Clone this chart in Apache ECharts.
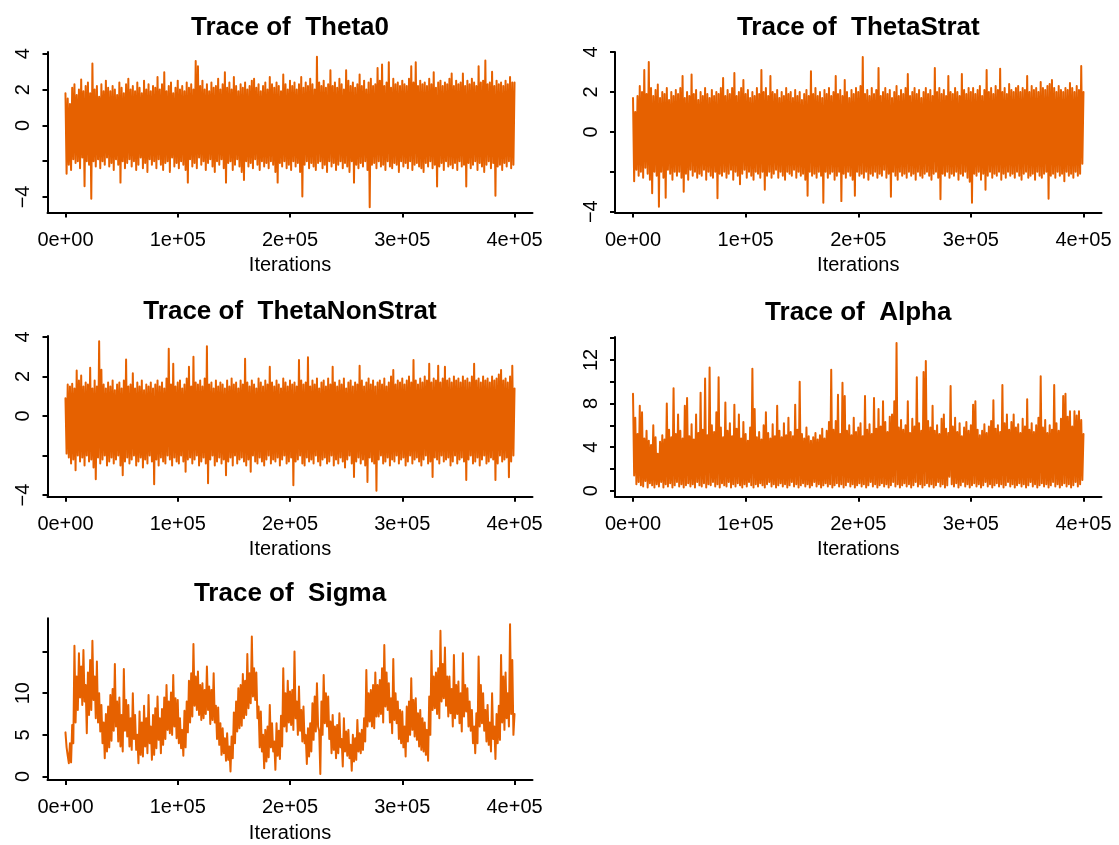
<!DOCTYPE html>
<html>
<head>
<meta charset="utf-8">
<title>Trace plots</title>
<script src="https://cdn.jsdelivr.net/npm/echarts@6/dist/echarts.min.js"></script>
<style>
  html, body { margin: 0; padding: 0; background: #ffffff; }
  #chart { width: 1119px; height: 845px; }
</style>
</head>
<body>
<div id="chart"></div>
<script>
// Thinned MCMC draws: one stored value every `thin` iterations (0 .. 400000).
const thin = 1000;
const iterTicks = [0, 100000, 200000, 300000, 400000];

const thetaTicks = [-4, -2, 0, 2, 4];
const thetaLabels = [-4, 0, 2, 4];
const alphaTicks = [0, 2, 4, 6, 8, 10, 12, 14];
const alphaLabels = [0, 4, 8, 12];
const sigmaTicks = [0, 5, 10, 15];
const sigmaLabels = [0, 5, 10];

const theta0 = [
  1.8,-2.7, 1.5,-2.2, 1.2,-2.5, 2.1,-1.9, 2.3,-2.1, 1.7,-2.0, 2.0,-2.4, 2.56,-1.8, 1.9,-3.4, 2.2,-2.0,
  2.4,-2.2, 1.8,-4.1, 3.46,-2.0, 2.0,-2.3, 2.2,-1.9, 1.6,-2.4, 2.3,-2.0, 1.9,-2.2, 2.5,-1.8, 2.1,-2.3,
  1.9,-2.1, 2.2,-2.5, 2.0,-1.9, 1.7,-2.2, 2.4,-3.2, 2.1,-2.0, 1.8,-2.4, 2.3,-2.1, 2.6,-1.9, 2.0,-2.3,
  2.2,-2.0, 1.9,-2.5, 2.4,-2.2, 2.1,-1.8, 1.8,-2.4, 2.5,-2.1, 2.0,-2.6, 2.3,-1.9, 1.9,-2.2, 2.2,-2.0,
  2.1,-2.4, 2.7,-1.9, 2.0,-2.2, 2.3,-2.5, 2.97,-2.1, 1.9,-2.0, 2.2,-2.6, 2.4,-1.8, 1.8,-2.3, 2.1,-2.1,
  2.5,-2.4, 2.0,-2.0, 2.2,-2.2, 1.9,-2.5, 2.4,-3.2, 2.1,-1.9, 2.3,-2.3, 2.0,-2.1, 3.6,-2.4, 3.3,-1.8,
  2.2,-2.2, 2.5,-2.0, 2.0,-2.5, 2.3,-2.1, 1.9,-1.9, 2.4,-2.3, 2.1,-2.6, 2.2,-2.0, 2.6,-2.2, 2.0,-1.9,
  2.3,-2.4, 2.97,-3.2, 2.1,-2.1, 2.4,-2.0, 2.0,-2.5, 2.7,-2.2, 2.2,-1.9, 1.9,-2.3, 2.3,-2.6, 2.1,-3.05,
  2.4,-2.0, 2.0,-2.3, 2.2,-2.1, 2.5,-2.4, 2.6,-1.9, 2.1,-2.2, 2.3,-2.5, 1.9,-2.0, 2.2,-2.3, 2.4,-2.1,
  2.0,-2.4, 2.7,-2.0, 2.3,-2.2, 2.1,-2.6, 2.4,-3.2, 2.2,-2.1, 1.9,-2.3, 2.84,-2.0, 2.3,-2.4, 2.0,-2.2,
  2.5,-2.5, 2.2,-2.0, 2.4,-2.3, 2.0,-2.1, 2.3,-2.6, 2.7,-3.98, 2.1,-2.2, 2.4,-2.0, 2.2,-2.4, 2.6,-2.1,
  2.3,-2.3, 2.0,-2.5, 3.83,-2.1, 2.4,-2.0, 2.2,-2.4, 2.5,-2.2, 2.1,-2.6, 2.3,-2.0, 3.08,-2.3, 2.2,-2.1,
  2.4,-2.5, 2.1,-2.2, 2.6,-2.0, 2.3,-2.4, 2.0,-2.1, 3.08,-2.3, 2.5,-2.6, 2.2,-2.0, 2.4,-3.2, 2.1,-2.2,
  2.3,-2.4, 2.84,-2.1, 2.2,-2.3, 2.5,-2.0, 2.0,-2.5, 2.4,-4.58, 2.6,-2.2, 2.2,-2.1, 2.3,-2.4, 3.2,-2.0,
  2.5,-2.3, 3.4,-2.2, 2.2,-2.5, 2.4,-2.0, 3.53,-2.3, 2.1,-2.4, 2.6,-2.1, 2.3,-2.2, 2.4,-2.6, 2.2,-2.0,
  2.5,-2.3, 2.3,-2.1, 2.2,-2.4, 2.6,-2.0, 3.3,-2.5, 2.4,-2.2, 3.53,-2.1, 2.2,-2.3, 2.5,-2.4, 2.3,-2.6,
  2.4,-2.1, 2.2,-2.3, 2.6,-2.0, 2.3,-2.4, 2.97,-2.2, 2.1,-3.42, 2.4,-2.3, 2.5,-2.1, 2.2,-2.5, 2.4,-2.0,
  2.3,-2.3, 2.6,-2.2, 2.9,-2.4, 2.2,-2.1, 2.5,-2.5, 2.3,-2.0, 2.4,-2.3, 2.9,-2.2, 2.2,-3.42, 2.5,-2.1,
  2.3,-2.4, 2.6,-2.2, 2.4,-2.0, 2.2,-2.5, 3.3,-2.1, 2.4,-2.3, 2.5,-2.6, 3.63,-2.2, 2.3,-2.0, 2.4,-2.4,
  3.0,-2.1, 2.2,-3.94, 2.5,-2.3, 2.3,-2.2, 2.4,-2.5, 2.2,-2.1, 2.5,-2.3, 2.3,-2.0, 2.7,-2.4, 2.4,-2.2,
  2.4
];

const thetaStrat = [
  1.7,-2.47, 1.0,-1.9, 1.8,-2.2, 2.3,-2.0, 2.0,-2.3, 3.1,-1.8, 1.9,-2.1, 3.5,-2.4, 2.2,-3.08, 1.8,-2.0,
  2.1,-2.2, 2.37,-3.75, 1.7,-2.0, 2.0,-2.3, 1.9,-3.3, 2.2,-1.9, 1.6,-2.1, 2.0,-2.4, 1.8,-2.0, 2.1,-2.2,
  1.9,-2.0, 2.2,-2.3, 2.8,-3.0, 1.7,-2.1, 2.0,-2.4, 1.8,-1.9, 2.87,-2.2, 1.9,-2.0, 2.1,-2.3, 1.6,-2.1,
  2.0,-2.2, 1.8,-1.9, 2.2,-2.4, 1.9,-2.0, 1.7,-2.2, 2.1,-2.3, 1.8,-2.0, 2.0,-3.33, 1.9,-2.1, 2.2,-2.2,
  2.7,-2.0, 1.8,-2.3, 2.1,-2.1, 1.9,-1.9, 2.2,-2.4, 2.95,-2.0, 1.8,-2.2, 2.0,-2.63, 2.2,-2.1, 2.6,-1.9,
  1.9,-2.3, 2.1,-2.0, 1.7,-2.2, 2.0,-2.4, 1.8,-2.0, 2.2,-2.1, 1.9,-2.3, 3.1,-2.0, 2.0,-2.9, 2.2,-2.2,
  1.8,-2.0, 2.8,-2.3, 2.0,-2.1, 1.9,-1.9, 2.1,-2.3, 1.7,-2.0, 2.0,-2.2, 1.8,-2.4, 2.2,-2.0, 1.9,-2.1,
  2.0,-2.2, 1.7,-1.9, 2.1,-2.3, 1.8,-2.0, 2.0,-2.2, 1.6,-2.1, 1.9,-2.4, 2.1,-3.2, 1.8,-2.0, 3.03,-2.2,
  1.9,-2.1, 2.2,-2.3, 1.8,-2.0, 2.0,-2.2, 1.7,-3.55, 2.1,-2.0, 1.9,-2.3, 2.2,-2.1, 1.8,-2.0, 2.0,-2.4,
  2.8,-2.2, 1.9,-2.0, 2.1,-3.47, 1.8,-2.1, 2.6,-2.3, 2.0,-2.0, 1.7,-2.2, 2.1,-2.4, 1.9,-3.2, 2.2,-2.0,
  2.0,-2.2, 2.3,-2.1, 3.75,-2.3, 1.9,-2.0, 2.1,-2.4, 1.8,-2.1, 2.2,-2.2, 1.9,-2.0, 2.1,-2.3, 3.2,-2.1,
  1.8,-2.2, 2.0,-1.9, 2.2,-2.3, 1.9,-2.1, 2.1,-3.25, 1.7,-2.0, 2.0,-2.2, 2.3,-2.4, 1.8,-2.0, 2.1,-2.2,
  1.9,-2.1, 2.2,-2.3, 2.9,-2.0, 1.8,-2.2, 2.0,-2.1, 2.2,-2.4, 1.9,-2.0, 2.1,-2.2, 1.7,-2.3, 2.0,-2.1,
  2.2,-2.0, 1.9,-2.2, 2.1,-2.4, 1.8,-2.1, 3.2,-2.0, 2.0,-2.3, 2.2,-3.38, 1.9,-2.1, 2.1,-2.2, 1.8,-2.0,
  2.8,-2.3, 2.0,-2.1, 1.9,-2.2, 2.2,-2.0, 2.0,-2.4, 1.8,-2.1, 2.9,-2.2, 2.1,-2.0, 1.9,-2.3, 2.2,-2.5,
  2.0,-3.55, 2.2,-2.1, 1.9,-2.2, 2.1,-2.0, 2.3,-2.4, 1.8,-2.1, 2.1,-2.9, 3.1,-2.2, 2.0,-2.0, 2.2,-2.3,
  1.9,-2.1, 2.3,-2.2, 2.1,-2.0, 3.16,-2.4, 2.0,-2.1, 2.2,-2.3, 1.9,-2.0, 2.4,-2.2, 2.1,-2.1, 2.0,-2.3,
  2.2,-2.0, 2.3,-2.2, 2.0,-2.4, 2.2,-2.1, 2.1,-2.0, 2.8,-2.3, 2.0,-2.2, 2.3,-2.1, 2.1,-2.4, 2.2,-2.0,
  2.0,-2.2, 2.5,-2.3, 2.2,-2.1, 2.1,-2.0, 2.3,-3.35, 2.4,-2.2, 2.6,-2.1, 2.2,-2.3, 2.0,-2.0, 2.3,-2.2,
  2.1,-2.1, 2.0,-2.47, 2.2,-2.0, 2.1,-2.2, 2.45,-2.1, 2.2,-2.3, 2.0,-2.0, 2.3,-2.2, 2.1,-2.1, 3.3,-1.6,
  2.0
];

const thetaNonStrat = [
  0.9,-1.9, 1.6,-2.1, 1.5,-2.4, 1.63,-2.2, 1.4,-2.74, 2.3,-2.0, 1.8,-2.3, 2.05,-2.1, 1.5,-2.5, 1.7,-2.0,
  1.6,-2.3, 2.44,-2.2, 1.4,-2.6, 1.8,-3.2, 1.5,-2.1, 3.78,-2.4, 2.34,-2.2, 1.6,-2.0, 1.4,-2.5, 1.7,-2.3,
  1.5,-2.1, 1.8,-2.4, 1.3,-2.2, 1.6,-2.0, 1.7,-2.5, 1.4,-3.0, 1.8,-2.3, 2.86,-2.1, 1.5,-2.4, 1.6,-2.2,
  2.17,-2.0, 1.4,-2.5, 1.7,-2.3, 1.5,-2.1, 1.8,-2.6, 1.3,-2.2, 1.6,-2.4, 1.5,-2.0, 1.7,-2.3, 1.4,-3.45,
  1.6,-2.2, 1.8,-2.5, 1.5,-2.1, 1.7,-2.3, 1.4,-2.4, 1.9,-2.0, 3.4,-2.2, 1.6,-2.5, 2.64,-2.1, 1.5,-2.3,
  1.7,-2.4, 1.8,-2.0, 1.4,-2.3, 1.6,-2.82, 1.9,-2.2, 2.5,-2.1, 1.5,-2.4, 3.0,-2.2, 1.7,-2.0, 1.6,-2.5,
  1.8,-2.3, 1.5,-2.1, 1.9,-2.4, 3.53,-3.4, 1.6,-2.2, 1.7,-2.0, 1.4,-2.5, 1.8,-2.3, 1.5,-2.1, 1.7,-2.4,
  1.6,-2.2, 1.4,-3.0, 1.8,-2.3, 1.5,-2.1, 1.9,-2.5, 1.6,-2.0, 1.7,-2.4, 1.4,-2.2, 1.8,-2.1, 1.6,-2.3,
  2.9,-2.5, 1.7,-2.2, 1.5,-2.82, 1.8,-2.0, 1.6,-2.3, 1.4,-2.4, 1.9,-2.1, 1.7,-2.3, 1.5,-2.5, 1.8,-2.2,
  1.6,-2.0, 2.5,-2.4, 1.7,-2.2, 1.5,-2.3, 1.8,-2.1, 1.6,-2.5, 1.4,-2.2, 1.9,-2.0, 1.7,-2.4, 1.5,-2.3,
  1.8,-2.1, 1.6,-3.5, 1.7,-2.3, 1.5,-2.2, 2.84,-2.0, 1.8,-2.4, 1.6,-2.5, 1.7,-2.1, 2.97,-2.3, 1.5,-2.2,
  1.8,-2.4, 1.6,-2.0, 1.9,-2.3, 1.4,-2.5, 1.7,-2.2, 1.8,-2.1, 1.5,-2.4, 1.9,-2.3, 1.6,-2.0, 2.5,-2.5,
  1.7,-2.2, 1.5,-2.4, 1.8,-2.1, 1.6,-2.3, 1.9,-2.6, 1.4,-2.2, 1.7,-2.0, 1.8,-2.4, 1.5,-3.08, 1.7,-2.3,
  1.6,-2.1, 2.55,-2.4, 1.8,-2.2, 1.5,-2.5, 1.7,-3.33, 1.9,-2.1, 1.6,-2.3, 1.8,-2.4, 1.5,-3.78, 1.7,-2.2,
  1.8,-2.0, 1.6,-2.4, 1.9,-2.3, 1.5,-2.1, 1.7,-2.5, 2.0,-2.2, 2.33,-2.3, 1.6,-2.0, 1.8,-2.4, 1.7,-2.2,
  1.9,-2.1, 1.6,-2.5, 1.8,-2.3, 2.0,-2.0, 1.7,-2.4, 2.84,-2.2, 1.8,-2.1, 1.6,-2.3, 1.9,-2.5, 1.7,-2.2,
  2.0,-2.0, 1.8,-2.4, 2.64,-2.3, 1.7,-3.08, 1.9,-2.1, 1.8,-2.2, 2.55,-2.4, 1.7,-2.0, 1.9,-2.3, 2.5,-2.2,
  1.8,-2.1, 1.9,-2.5, 1.7,-2.3, 2.0,-2.0, 1.8,-2.4, 1.9,-2.2, 1.7,-2.1, 2.0,-2.3, 1.8,-3.24, 1.9,-2.2,
  1.7,-2.0, 2.0,-2.4, 2.64,-2.3, 1.8,-2.1, 1.9,-2.5, 1.7,-2.2, 2.0,-2.0, 1.8,-2.4, 1.9,-2.3, 1.7,-2.1,
  2.0,-2.2, 1.8,-3.24, 1.9,-2.4, 2.1,-2.0, 2.33,-2.3, 1.8,-2.2, 1.9,-2.1, 1.7,-3.1, 2.0,-2.3, 2.55,-2.0,
  1.4
];

const alpha = [
  8.9,1.4, 6.7,0.6, 5.2,0.8, 7.8,0.5, 7.2,0.4, 4.8,0.9, 5.5,0.3, 4.6,0.7, 4.2,0.5, 6.0,0.3,
  4.9,0.6, 3.4,0.4, 4.5,0.8, 5.1,0.3, 4.7,0.6, 8.0,0.4, 5.6,0.7, 4.9,0.3, 9.4,0.5, 5.2,0.8,
  7.0,0.4, 5.5,0.6, 4.8,0.3, 7.8,0.5, 8.5,0.7, 5.0,0.4, 6.1,0.6, 4.7,0.3, 7.0,0.8, 5.3,0.5,
  9.0,0.4, 5.6,0.7, 10.3,0.3, 5.1,0.6, 11.3,0.5, 6.0,0.8, 5.4,0.4, 7.2,0.6, 10.4,0.3, 5.8,0.7,
  4.9,0.5, 8.1,0.4, 5.5,0.8, 6.2,0.3, 5.0,0.6, 7.9,0.4, 5.7,0.7, 7.0,0.5, 4.8,0.3, 6.3,0.6,
  5.2,0.4, 4.6,0.8, 5.8,0.5, 11.2,0.3, 7.5,0.6, 4.9,0.4, 5.4,0.7, 4.7,0.5, 6.0,0.3, 7.2,0.6,
  5.3,0.8, 4.8,0.4, 6.1,0.6, 5.0,0.3, 7.8,0.5, 5.5,0.7, 4.9,0.4, 6.2,0.6, 5.1,0.3, 6.7,0.5,
  5.4,0.8, 5.0,0.4, 7.9,0.6, 5.6,0.3, 10.0,0.5, 5.2,0.7, 4.8,0.4, 5.8,0.6, 5.0,0.3, 4.6,0.5,
  4.9,0.8, 5.3,0.4, 4.7,0.6, 5.1,0.3, 5.7,0.5, 4.8,0.7, 5.5,0.4, 6.3,0.6, 11.1,0.3, 5.6,0.5,
  6.4,0.7, 8.8,0.4, 5.2,0.6, 9.9,0.3, 8.7,0.5, 5.5,0.8, 6.0,0.4, 5.1,0.6, 6.7,0.3, 5.4,0.5,
  5.8,0.7, 6.2,0.4, 5.0,0.6, 8.7,0.3, 5.6,0.5, 6.1,0.8, 5.2,0.4, 8.5,0.6, 5.7,0.3, 7.5,0.5,
  5.9,0.7, 8.2,0.4, 6.3,0.6, 5.4,0.3, 6.8,0.5, 7.0,0.8, 8.2,0.4, 13.55,0.6, 5.8,0.3, 6.5,0.5,
  5.6,0.7, 6.0,0.4, 8.2,0.6, 5.3,0.3, 6.6,0.5, 5.9,0.8, 10.4,0.4, 6.2,0.6, 5.5,0.3, 10.9,0.5,
  11.9,0.7, 6.4,0.4, 5.8,0.6, 7.8,0.3, 5.5,0.5, 6.0,0.8, 5.2,0.4, 6.6,0.6, 7.0,0.3, 5.7,0.5,
  5.3,1.3, 9.6,0.6, 5.9,0.4, 6.7,0.7, 5.4,0.3, 6.2,0.5, 5.0,0.8, 5.8,0.4, 6.3,0.6, 5.5,0.3,
  6.0,0.5, 7.9,0.7, 8.2,0.4, 5.6,0.6, 5.1,0.3, 5.5,0.5, 6.1,0.8, 5.3,0.4, 5.9,0.6, 6.4,0.3,
  8.3,0.5, 5.7,0.7, 6.0,0.4, 5.4,0.6, 9.7,0.3, 6.2,0.5, 7.0,0.8, 5.6,0.4, 6.3,0.6, 7.0,0.3,
  5.8,0.5, 6.1,0.7, 5.3,0.4, 6.6,0.6, 5.9,0.3, 8.4,0.5, 5.6,0.8, 6.2,0.4, 5.4,0.6, 6.0,0.3,
  6.7,0.5, 10.5,0.7, 5.8,0.4, 6.5,0.6, 5.3,0.3, 6.0,0.5, 5.6,0.8, 9.7,0.4, 6.2,0.6, 5.5,0.3,
  6.6,0.5, 8.7,0.7, 8.9,0.4, 6.8,0.6, 7.3,0.3, 5.9,0.5, 7.3,0.8, 6.9,0.4, 7.3,0.6, 6.5,1.0,
  5.2
];

const sigma = [
  5.3,3.5, 2.5,1.6, 4.0,1.7, 6.2,4.0, 15.7,6.5, 12.0,8.0, 14.8,9.5, 13.2,8.6, 15.2,9.0, 11.0,5.2,
  12.5,7.4, 14.0,8.0, 16.3,9.2, 12.0,7.0, 13.8,6.5, 10.0,5.4, 8.6,4.0, 6.5,2.2, 7.5,3.0, 8.4,3.5,
  9.8,4.3, 10.5,5.5, 13.5,6.0, 9.0,4.2, 9.5,3.6, 7.4,3.0, 12.9,5.5, 9.2,4.8, 8.6,3.6, 7.0,3.2,
  10.0,4.5, 7.4,3.2, 5.0,1.6, 7.8,2.6, 6.5,2.4, 8.5,3.6, 7.0,2.8, 9.8,4.0, 6.0,2.0, 7.4,2.6,
  8.2,3.4, 9.6,4.4, 7.0,2.8, 8.1,3.8, 9.5,4.5, 11.0,5.6, 9.0,5.2, 10.1,5.0, 12.2,6.0, 9.4,4.6,
  9.2,4.0, 7.0,3.4, 5.6,2.5, 7.9,3.5, 9.0,5.3, 11.5,6.5, 12.4,7.2, 15.9,8.5, 12.0,8.0, 12.6,7.4,
  11.0,6.8, 11.2,7.0, 10.4,7.5, 13.2,8.0, 10.8,6.3, 10.4,6.8, 12.4,6.5, 8.5,4.5, 8.3,3.8, 6.4,2.6,
  5.8,2.8, 4.6,1.9, 5.2,2.0, 3.6,0.6, 4.8,2.2, 7.7,4.0, 9.0,5.4, 10.6,5.8, 11.0,6.1, 12.3,7.0,
  11.5,7.4, 14.7,8.2, 12.4,8.8, 16.8,9.6, 13.0,9.2, 12.5,7.0, 8.4,3.5, 7.8,3.0, 5.0,1.0, 5.6,1.8,
  6.0,2.3, 8.6,3.5, 6.4,3.0, 4.2,0.8, 6.4,2.5, 5.5,2.1, 7.3,3.6, 13.0,6.0, 10.0,5.4, 11.5,6.5,
  10.2,6.2, 10.4,5.6, 15.0,7.0, 9.0,5.0, 10.8,5.5, 8.0,4.2, 8.4,4.0, 5.0,1.5, 5.8,2.4, 6.4,3.0,
  8.8,4.4, 9.6,5.4, 11.2,6.0, 5.5,0.3, 9.0,5.0, 12.2,6.4, 10.0,6.0, 9.6,4.5, 6.6,2.8, 7.4,3.2,
  6.0,2.2, 6.2,2.8, 7.6,3.5, 4.5,1.2, 7.0,3.0, 5.4,2.5, 5.6,2.2, 3.8,0.7, 5.0,1.8, 4.6,2.0,
  6.8,3.0, 5.2,2.8, 5.6,3.2, 7.0,4.2, 12.8,6.0, 10.0,6.6, 10.4,6.0, 11.0,5.8, 12.5,7.2, 11.0,7.2,
  11.6,7.5, 13.0,6.5, 15.8,8.4, 12.5,8.0, 11.2,6.5, 9.4,5.2, 14.1,6.8, 10.0,6.4, 9.0,4.5, 8.0,4.0,
  7.8,3.5, 6.0,2.4, 8.4,4.2, 9.0,5.0, 11.8,5.6, 9.2,4.8, 9.4,4.4, 7.6,3.6, 8.0,3.2, 7.0,3.0,
  6.5,2.6, 5.6,1.9, 9.6,5.0, 15.1,8.0, 12.0,8.2, 12.5,7.5, 13.0,7.0, 17.5,9.0, 13.5,9.4, 15.5,8.5,
  12.0,7.2, 12.0,7.6, 10.5,6.0, 14.6,7.0, 11.0,7.5, 11.4,6.4, 10.0,5.4, 14.8,7.2, 11.0,7.8, 10.6,6.0,
  9.0,5.5, 8.0,4.0, 6.0,2.8, 7.6,4.0, 14.4,6.0, 11.0,6.4, 10.0,5.5, 8.0,4.2, 8.6,3.8, 6.5,3.0,
  10.0,4.5, 6.0,2.1, 7.5,4.0, 8.5,4.4, 14.6,6.5, 12.0,5.6, 12.5,7.0, 10.0,6.0, 18.3,7.5, 14.0,5.0,
  7.5
];

const FONT = "'Liberation Sans', Arial, Helvetica, sans-serif";
const TRACE_COLOR = '#E66100';

// Panel layout: plot box [left, top, width, height] and y-axis limits.
const panels = [
  { name: 'Theta0',        values: theta0,        box: [47.5, 52, 485, 160.5],     yMin: -4.87, yMax: 4.1,  ticks: thetaTicks, labels: thetaLabels },
  { name: 'ThetaStrat',    values: thetaStrat,    box: [615, 52, 486.5, 160.5],    yMin: -4.04, yMax: 4.0,  ticks: thetaTicks, labels: thetaLabels },
  { name: 'ThetaNonStrat', values: thetaNonStrat, box: [47.5, 336, 485, 160.7],    yMin: -4.08, yMax: 4.05, ticks: thetaTicks, labels: thetaLabels },
  { name: 'Alpha',         values: alpha,         box: [615, 337, 486.5, 159.7],   yMin: -0.54, yMax: 14.1, ticks: alphaTicks, labels: alphaLabels },
  { name: 'Sigma',         values: sigma,         box: [47.5, 618.3, 485, 161.7],  yMin: -0.42, yMax: 19.0, ticks: sigmaTicks, labels: sigmaLabels }
];

function sciLabel(v) {
  if (v === 0) return '0e+00';
  const exp = Math.floor(Math.log10(Math.abs(v)));
  const mant = Math.round(v / Math.pow(10, exp));
  return mant + 'e' + (exp < 0 ? '-' : '+') + String(Math.abs(exp)).padStart(2, '0');
}

function numLabel(v) {
  return v < 0 ? '\u2212' + (-v) : String(v);
}

const axisLine = { show: true, onZero: false, lineStyle: { color: '#000', width: 2 } };

const option = {
  backgroundColor: '#ffffff',
  animation: false,
  title: panels.map(p => ({
    text: 'Trace of  ' + p.name,
    left: p.box[0] + p.box[2] / 2,
    top: p.box[1] - 37,
    textAlign: 'center',
    padding: 0,
    textStyle: { fontFamily: FONT, fontSize: 26, fontWeight: 'bold', color: '#000' }
  })),
  grid: panels.map(p => ({
    left: p.box[0], top: p.box[1], width: p.box[2], height: p.box[3], containLabel: false
  })),
  xAxis: panels.map((p, k) => ({
    gridIndex: k,
    type: 'value',
    min: -16000,
    max: 416000,
    name: 'Iterations',
    nameLocation: 'middle',
    nameGap: 43,
    nameTextStyle: { fontFamily: FONT, fontSize: 20, color: '#000' },
    axisLine: axisLine,
    axisTick: { show: true, length: 5, customValues: iterTicks, lineStyle: { color: '#000', width: 2 } },
    axisLabel: { customValues: iterTicks, formatter: sciLabel, margin: 17.5, fontFamily: FONT, fontSize: 20, color: '#000' },
    splitLine: { show: false }
  })),
  yAxis: panels.map((p, k) => ({
    gridIndex: k,
    type: 'value',
    min: p.yMin,
    max: p.yMax,
    axisLine: axisLine,
    axisTick: { show: true, length: 5, customValues: p.ticks, lineStyle: { color: '#000', width: 2 } },
    axisLabel: { customValues: p.labels, formatter: numLabel, rotate: 90, margin: 14, fontFamily: FONT, fontSize: 20, color: '#000' },
    splitLine: { show: false }
  })),
  series: panels.map((p, k) => ({
    type: 'line',
    xAxisIndex: k,
    yAxisIndex: k,
    data: p.values.map((v, i) => [i * thin, v]),
    showSymbol: false,
    symbol: 'none',
    silent: true,
    lineStyle: { color: TRACE_COLOR, width: 2, join: 'round', cap: 'round' }
  }))
};

const chart = echarts.init(document.getElementById('chart'), null, { renderer: 'canvas' });
chart.setOption(option);
</script>
</body>
</html>
